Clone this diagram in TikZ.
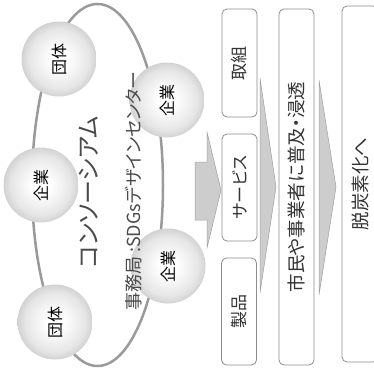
\documentclass[tikz,border=0pt]{standalone}
\usepackage{fontspec}
\newfontfamily\jp[RawFeature=+palt]{Noto Sans CJK JP}
\definecolor{ovalline}{HTML}{9A9A9A}
\definecolor{boxline}{HTML}{8C8C8C}
\definecolor{arrowfill}{HTML}{CDCDCD}
\definecolor{arrowline}{HTML}{A0A0A0}
\definecolor{txtgray}{HTML}{4A4A4A}
\definecolor{txtdark}{HTML}{333333}
\definecolor{ballgray}{HTML}{ABABAB}
\pgfdeclareradialshading{ballshade}{\pgfpoint{0bp}{0bp}}{color(0bp)=(white); color(6bp)=(white); color(20bp)=(white!70!ballgray); color(35bp)=(ballgray); color(50bp)=(ballgray)}
\tikzset{
  ball/.style={circle, minimum size=75pt, inner sep=0pt, shading=ballshade, rotate=90, font=\jp\fontsize{16}{16}\selectfont, text=black},
  colbox/.style={draw=boxline, line width=0.8pt, rounded corners=5pt, fill=white, rotate=90, inner sep=0pt, text=txtdark},
  thinarrow/.style={fill=arrowfill, draw=arrowline, line width=0.5pt},
  bigtext/.style={rotate=90, text=txtgray, inner sep=0pt}
}
\begin{document}
\begin{tikzpicture}[x=1pt,y=-1pt]
\useasboundingbox (0,0) rectangle (374,369);
% oval
\draw[ovalline, line width=2.5pt] (97.5,185) ellipse [x radius=65.5, y radius=181];
% balls
\node[ball] (dantaiA) at (59,59) {団体};
\node[ball] (kigyoA) at (41,185) {企業};
\node[ball] (dantaiB) at (55,322) {団体};
\node[ball] (kigyoB) at (167,100) {企業};
\node[ball] (kigyoC) at (168,266) {企業};
% consortium texts
\node[bigtext, font=\jp\fontsize{24}{24}\selectfont] (consortium) at (89,192) {コンソーシアム};
\node[bigtext, font=\jp\fontsize{18}{18}\selectfont] (jimukyoku) at (134,191) {事務局 :SDGsデザインセンター};
% big block arrow
\coordinate (bigtip) at (221,190);
\draw[thinarrow] (195,162) -- (207,162) -- (207,132) -- (bigtip) -- (207,248) -- (207,220) -- (195,220) -- cycle;
% column 1 boxes
\node[colbox, minimum width=108pt, minimum height=35pt, font=\jp\fontsize{17}{17}\selectfont] (torikumi) at (239.5,63) {取組};
\node[colbox, minimum width=107pt, minimum height=35pt, font=\jp\fontsize{17}{17}\selectfont] (service) at (239.5,187.5) {サービス};
\node[colbox, minimum width=107pt, minimum height=35pt, font=\jp\fontsize{17}{17}\selectfont] (seihin) at (239,311.5) {製品};
% thin arrows
\coordinate (tipA) at (276,187);
\coordinate (tipB) at (336,187);
\draw[thinarrow] (260,78) -- (tipA) -- (260,293) -- cycle;
\draw[thinarrow] (319,80) -- (tipB) -- (319,295) -- cycle;
% column 2
\node[colbox, minimum width=356pt, minimum height=35pt, font=\jp\fontsize{18.5}{18.5}\selectfont] (fukyu) at (296.5,187) {市民や事業者に普及・浸透};
% column 3
\node[colbox, minimum width=356pt, minimum height=36pt, font=\jp\fontsize{18.5}{18.5}\selectfont] (datsutanso) at (360,184) {脱炭素化へ};
\end{tikzpicture}
\end{document}
